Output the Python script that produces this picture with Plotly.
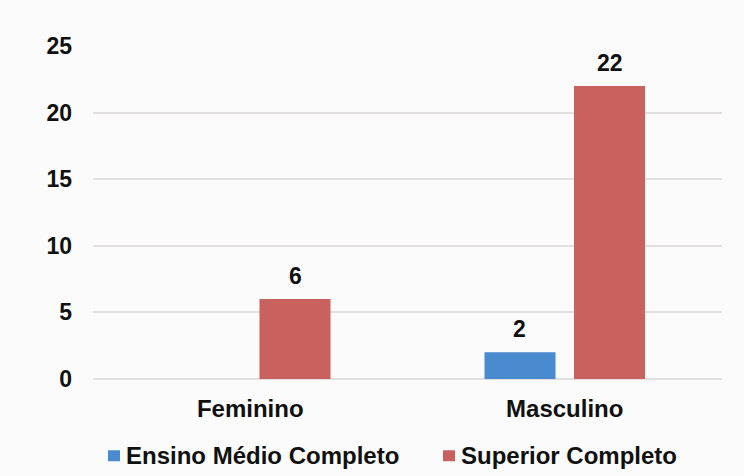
import plotly.graph_objects as go

# Escolaridade por sexo
categorias = ["Feminino", "Masculino"]
ensino_medio = [None, 2]
superior = [6, 22]
y_ticks = [0, 5, 10, 15, 20, 25]
series = [("Ensino Médio Completo", ensino_medio), ("Superior Completo", superior)]

AZUL = "#4a8bcf"
VERMELHO = "#c9625e"
cores = [AZUL, VERMELHO]
TEXTO = "#111111"
FONTE = "Liberation Sans, Arial, sans-serif"

fig = go.Figure()
for (nome, valores), cor in zip(series, cores):
    fig.add_trace(go.Bar(name=nome, x=categorias, y=valores,
                         marker=dict(color=cor, line=dict(width=0))))

# Rótulos de valor acima das barras
deslocamentos = [-45, 45]
for (nome, valores), dx in zip(series, deslocamentos):
    for cat, v in zip(categorias, valores):
        if v is None:
            continue
        fig.add_annotation(x=cat, y=v, text=str(v), showarrow=False,
                           xshift=dx, yshift=8, yanchor="bottom",
                           font=dict(family=FONTE, size=23, color=TEXTO, weight="bold"))

# Legenda compacta abaixo do gráfico
legenda_x = [0.0238, 0.5564]
for (nome, _), cor, lx in zip(series, cores, legenda_x):
    fig.add_shape(type="rect", xref="paper", yref="paper",
                  x0=lx, x1=lx + 0.0191, y0=-0.247, y1=-0.214,
                  fillcolor=cor, line=dict(width=0))
    fig.add_annotation(xref="paper", yref="paper", x=lx + 0.0255, y=-0.231,
                       text=nome, showarrow=False, xanchor="left", yanchor="middle",
                       font=dict(family=FONTE, size=24, color=TEXTO, weight="bold"))

fig.update_layout(
    width=744, height=476,
    margin=dict(l=93, r=22, t=46, b=97, autoexpand=False),
    paper_bgcolor="#fbfbfb", plot_bgcolor="#fbfbfb",
    barmode="group", bargap=0.431, bargroupgap=0.206,
    font=dict(family=FONTE, color=TEXTO),
    showlegend=False,
)
fig.update_xaxes(range=[-0.5, 1.5], showgrid=False, showline=False, zeroline=False,
                 ticks="", ticklabelstandoff=13,
                 tickfont=dict(family=FONTE, size=24, color=TEXTO, weight="bold"))
fig.update_yaxes(range=[0, 25], tickvals=y_ticks, showgrid=True, gridcolor="#e2e0de",
                 gridwidth=1.5, zeroline=True, zerolinecolor="#e2e0de", zerolinewidth=1.5,
                 showline=False, ticks="", ticklabelstandoff=20,
                 tickfont=dict(family=FONTE, size=23, color=TEXTO, weight="bold"))

fig.write_html("out.html")
